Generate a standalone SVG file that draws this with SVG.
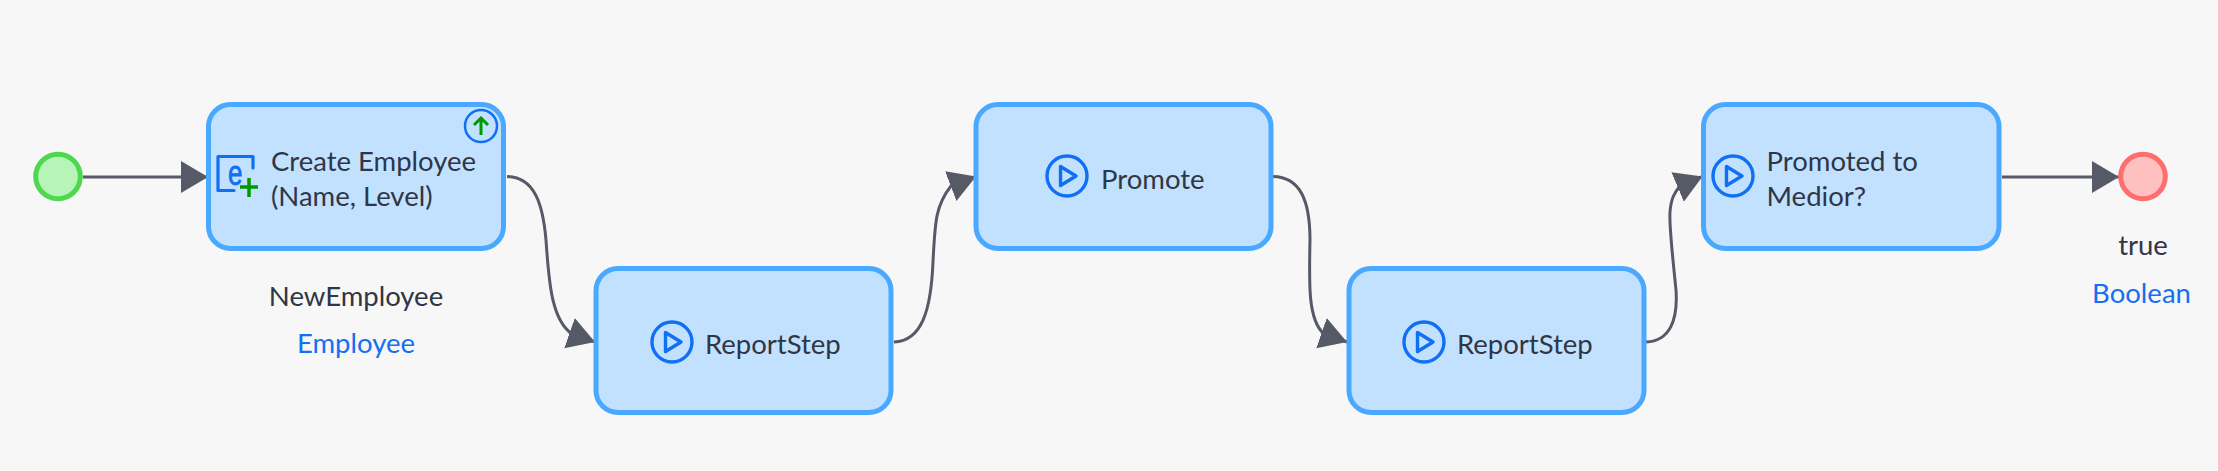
<svg xmlns="http://www.w3.org/2000/svg" width="2218" height="471" viewBox="0 0 2218 471">
<style>
.box{fill:#c2e1ff;stroke:#4aa9ff;stroke-width:5}
.t{font-family:"Lato","Open Sans",sans-serif;font-size:27.500px;fill:#2f3646}
.b{fill:#146ff4}
.m{text-anchor:middle}
.ic{fill:none;stroke:#0f6ff5;stroke-width:3.400;stroke-linejoin:round;stroke-linecap:round}
.c{fill:none;stroke:#555a66;stroke-width:3;marker-end:url(#ah)}
</style>
<defs>
<marker id="ah" markerUnits="userSpaceOnUse" markerWidth="28" markerHeight="34" refX="27" refY="16.500" orient="auto"><path d="M0 0.500L27 16.500L0 32.500Z" fill="#555a66"/></marker>
<g id="play"><circle r="20" class="ic"/><path d="M-6.500 -9.500L9 0L-6.500 9.500Z" class="ic"/></g>
</defs>
<rect width="2218" height="471" fill="#f7f7f7"/>
<g id="connectors">
<path class="c" d="M83 177H208"/>
<path class="c" d="M507 176.500C535 177 543 205 546 240C549 285 552 320 572 334L595 342"/>
<path class="c" d="M894 342C922 341 931 310 933 262C935 220 936 205 951 186L976 176.500"/>
<path class="c" d="M1273 176.500C1300 177 1310 200 1310 240C1309 285 1308 320 1324 334L1347 342"/>
<path class="c" d="M1646 342C1670 341 1678 320 1676 290C1672 250 1669 225 1670 212C1671 198 1675 192 1680 186L1702.500 176.500"/>
<path class="c" d="M2002 177H2119"/>
</g>
<g id="start"><circle cx="58" cy="176.500" r="22.300" fill="#b7f4b7" stroke="#4fd84f" stroke-width="5"/></g>
<g id="create-employee">
<rect class="box" x="208.500" y="104.500" width="295" height="144" rx="22"/>
<circle cx="481" cy="126" r="16" fill="none" stroke="#0f6ff5" stroke-width="2.500"/>
<path d="M481 135V118M474 125L481 118L488 125" fill="none" stroke="#009900" stroke-width="3"/>
<path d="M253 168V156.500H218V190.500H234" fill="none" stroke="#0f6ff5" stroke-width="3.200" stroke-linejoin="round" stroke-linecap="round"/>
<text transform="translate(228 185) scale(.72 1)" font-family="Liberation Sans,sans-serif" font-size="36" stroke="#0f6ff5" stroke-width=".8" fill="#0f6ff5">e</text>
<path d="M240 187H258M249 178V197" fill="none" stroke="#009900" stroke-width="3.500"/>
<text class="t" x="271" y="171">Create Employee</text>
<text class="t" x="271" y="206">(Name, Level)</text>
<text class="t m" x="356" y="306">NewEmployee</text>
<text class="t b m" x="356" y="353">Employee</text>
</g>
<g id="report-step-1">
<rect class="box" x="596" y="268.500" width="295" height="144" rx="22"/>
<use href="#play" x="672" y="342"/>
<text class="t" x="705" y="354">ReportStep</text>
</g>
<g id="promote">
<rect class="box" x="976" y="104.500" width="295" height="144" rx="22"/>
<use href="#play" x="1067" y="176"/>
<text class="t" x="1101" y="189">Promote</text>
</g>
<g id="report-step-2">
<rect class="box" x="1349" y="268.500" width="295" height="144" rx="22"/>
<use href="#play" x="1424" y="342"/>
<text class="t" x="1457" y="354">ReportStep</text>
</g>
<g id="promoted">
<rect class="box" x="1703.500" y="104.500" width="295.500" height="144" rx="22"/>
<use href="#play" x="1733" y="176"/>
<text class="t" x="1766.500" y="171">Promoted to</text>
<text class="t" x="1766.500" y="206">Medior?</text>
</g>
<g id="end">
<circle cx="2143" cy="176.500" r="22.300" fill="#ffc0c0" stroke="#ff6e6e" stroke-width="5"/>
<text class="t m" x="2143" y="255">true</text>
<text class="t b m" x="2141.500" y="303">Boolean</text>
</g>
</svg>
